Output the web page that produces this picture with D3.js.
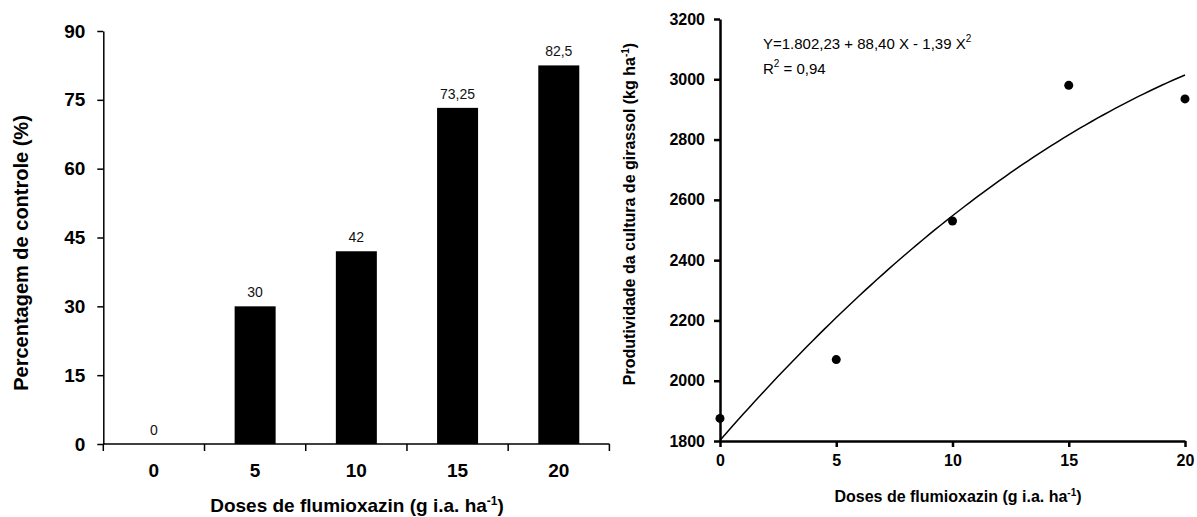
<!DOCTYPE html>
<html>
<head>
<meta charset="utf-8">
<script src="https://cdn.jsdelivr.net/npm/d3@7"></script>
<style>
  html, body { margin: 0; padding: 0; background: #fff; }
  svg { display: block; font-family: "Liberation Sans", Arial, sans-serif; }
</style>
</head>
<body>
<svg id="chart" width="1197" height="517"></svg>
<script>
// ---- Left panel: weed control (%) by flumioxazin dose ----
const doses = [0, 5, 10, 15, 20];
const controlPct = [0, 30, 42, 73.25, 82.5];
const controlTicks = [0, 15, 30, 45, 60, 75, 90];

// ---- Right panel: sunflower yield (kg/ha) by dose ----
const yieldDoses = [0, 5, 10, 15, 20];
const yieldValues = [1875, 2070, 2530, 2980, 2935];
const yieldTicks = [1800, 2000, 2200, 2400, 2600, 2800, 3000, 3200];
const doseTicks = [0, 5, 10, 15, 20];
// Fitted quadratic: Y = b0 + b1 X + b2 X^2
const fitCoef = [1802.23, 88.40, -1.39];

const svg = d3.select("#chart");
const fmt = v => String(v).replace(".", ",");

/* ===== Left panel ===== */
const L = { x0: 103.3, x1: 609.4, y0: 444, y1: 31 };
const xb = d3.scaleBand().domain(doses).range([L.x0, L.x1])
  .paddingInner(0.595).paddingOuter(0.2975);
const yl = d3.scaleLinear().domain([0, 90]).range([L.y0, L.y1]);

const left = svg.append("g");

left.selectAll("rect.bar").data(doses).join("rect")
  .attr("class", "bar")
  .attr("x", (d) => xb(d))
  .attr("width", xb.bandwidth())
  .attr("y", (d, i) => yl(controlPct[i]))
  .attr("height", (d, i) => yl(0) - yl(controlPct[i]))
  .attr("fill", "#000");

left.selectAll("text.val").data(doses).join("text")
  .attr("class", "val")
  .attr("x", d => xb(d) + xb.bandwidth() / 2)
  .attr("y", (d, i) => yl(controlPct[i]) - 9)
  .attr("text-anchor", "middle")
  .attr("font-size", 14)
  .attr("fill", "#111")
  .text((d, i) => fmt(controlPct[i]));

// y axis
const yAxisL = left.append("g")
  .attr("transform", `translate(${L.x0},0)`)
  .call(d3.axisLeft(yl).tickValues(controlTicks).tickFormat(d3.format("d"))
    .tickSize(6).tickSizeOuter(0).tickPadding(12));
yAxisL.selectAll("text").attr("font-size", 19).attr("font-weight", "bold").attr("fill", "#000")
  .attr("font-family", "Liberation Sans, Arial, sans-serif");
yAxisL.selectAll("path, line").attr("stroke", "#000").attr("stroke-width", 1.5);

// x axis: baseline, category labels, and ticks on category boundaries
const xAxisL = left.append("g").attr("transform", `translate(0,${L.y0})`);
xAxisL.append("line").attr("x1", L.x0).attr("x2", L.x1)
  .attr("stroke", "#000").attr("stroke-width", 1.5);
const bounds = doses.map(d => xb(d) - xb.step() * xb.paddingInner() / 2)
  .concat([L.x1]);
xAxisL.selectAll("line.bt").data(bounds).join("line")
  .attr("class", "bt")
  .attr("x1", d => d).attr("x2", d => d)
  .attr("y1", 0).attr("y2", 7)
  .attr("stroke", "#000").attr("stroke-width", 1.5);
xAxisL.selectAll("text.xl").data(doses).join("text")
  .attr("class", "xl")
  .attr("x", d => xb(d) + xb.bandwidth() / 2)
  .attr("y", 33)
  .attr("text-anchor", "middle")
  .attr("font-size", 19).attr("font-weight", "bold")
  .text(d => d);

// titles
const xtL = left.append("text")
  .attr("x", 357).attr("y", 512)
  .attr("text-anchor", "middle")
  .attr("font-size", 19).attr("font-weight", "bold");
xtL.append("tspan").text("Doses de flumioxazin (g i.a. ha");
xtL.append("tspan").attr("font-size", 12).attr("dy", -7).text("-1");
xtL.append("tspan").attr("dy", 7).text(")");

left.append("text")
  .attr("transform", "translate(28,253) rotate(-90)")
  .attr("text-anchor", "middle")
  .attr("font-size", 20).attr("font-weight", "bold")
  .text("Percentagem de controle (%)");

/* ===== Right panel ===== */
const R = { x0: 720, x1: 1185, y0: 441, y1: 19 };
const xr = d3.scaleLinear().domain([0, 20]).range([R.x0, R.x1]);
const yr = d3.scaleLinear().domain([1800, 3200]).range([R.y0, R.y1]);

const right = svg.append("g");

// fitted curve
const fitX = d3.range(0, 20.001, 0.25);
const fitY = x => fitCoef[0] + fitCoef[1] * x + fitCoef[2] * x * x;
right.append("path")
  .datum(fitX)
  .attr("fill", "none").attr("stroke", "#000").attr("stroke-width", 1.5)
  .attr("d", d3.line().x(d => xr(d)).y(d => yr(fitY(d))));

const yAxisR = right.append("g")
  .attr("transform", `translate(${R.x0},0)`)
  .call(d3.axisLeft(yr).tickValues(yieldTicks).tickFormat(d3.format("d"))
    .tickSize(6).tickSizeOuter(0).tickPadding(9));
const xAxisR = right.append("g")
  .attr("transform", `translate(0,${R.y0})`)
  .call(d3.axisBottom(xr).tickValues(doseTicks).tickFormat(d3.format("d"))
    .tickSize(6).tickSizeOuter(0).tickPadding(8));
[yAxisR, xAxisR].forEach(a => {
  a.selectAll("text").attr("font-size", 16).attr("font-weight", "bold").attr("fill", "#000")
    .attr("font-family", "Liberation Sans, Arial, sans-serif");
  a.selectAll("path, line").attr("stroke", "#000").attr("stroke-width", 2.5);
});

right.selectAll("circle.pt").data(yieldDoses).join("circle")
  .attr("class", "pt")
  .attr("cx", d => xr(d))
  .attr("cy", (d, i) => yr(yieldValues[i]))
  .attr("r", 4.5)
  .attr("fill", "#000");

// equation and R²
const eq = right.append("text").attr("x", 763).attr("y", 49).attr("font-size", 15);
eq.append("tspan").text("Y=1.802,23 + 88,40 X - 1,39 X");
eq.append("tspan").attr("font-size", 10).attr("dy", -7).text("2");
const r2 = right.append("text").attr("x", 763).attr("y", 74).attr("font-size", 15);
r2.append("tspan").text("R");
r2.append("tspan").attr("font-size", 10).attr("dy", -7).text("2");
r2.append("tspan").attr("dy", 7).text(" = 0,94");

// titles
const xtR = right.append("text")
  .attr("x", 958).attr("y", 502)
  .attr("text-anchor", "middle")
  .attr("font-size", 16).attr("font-weight", "bold");
xtR.append("tspan").text("Doses de flumioxazin (g i.a. ha");
xtR.append("tspan").attr("font-size", 10).attr("dy", -6).text("-1");
xtR.append("tspan").attr("dy", 6).text(")");

const ytR = right.append("text")
  .attr("transform", "translate(635,214) rotate(-90)")
  .attr("text-anchor", "middle")
  .attr("font-size", 16).attr("font-weight", "bold");
ytR.append("tspan").text("Produtividade da cultura de girassol (kg ha");
ytR.append("tspan").attr("font-size", 10).attr("dy", -6).text("-1");
ytR.append("tspan").attr("dy", 6).text(")");
</script>
</body>
</html>
